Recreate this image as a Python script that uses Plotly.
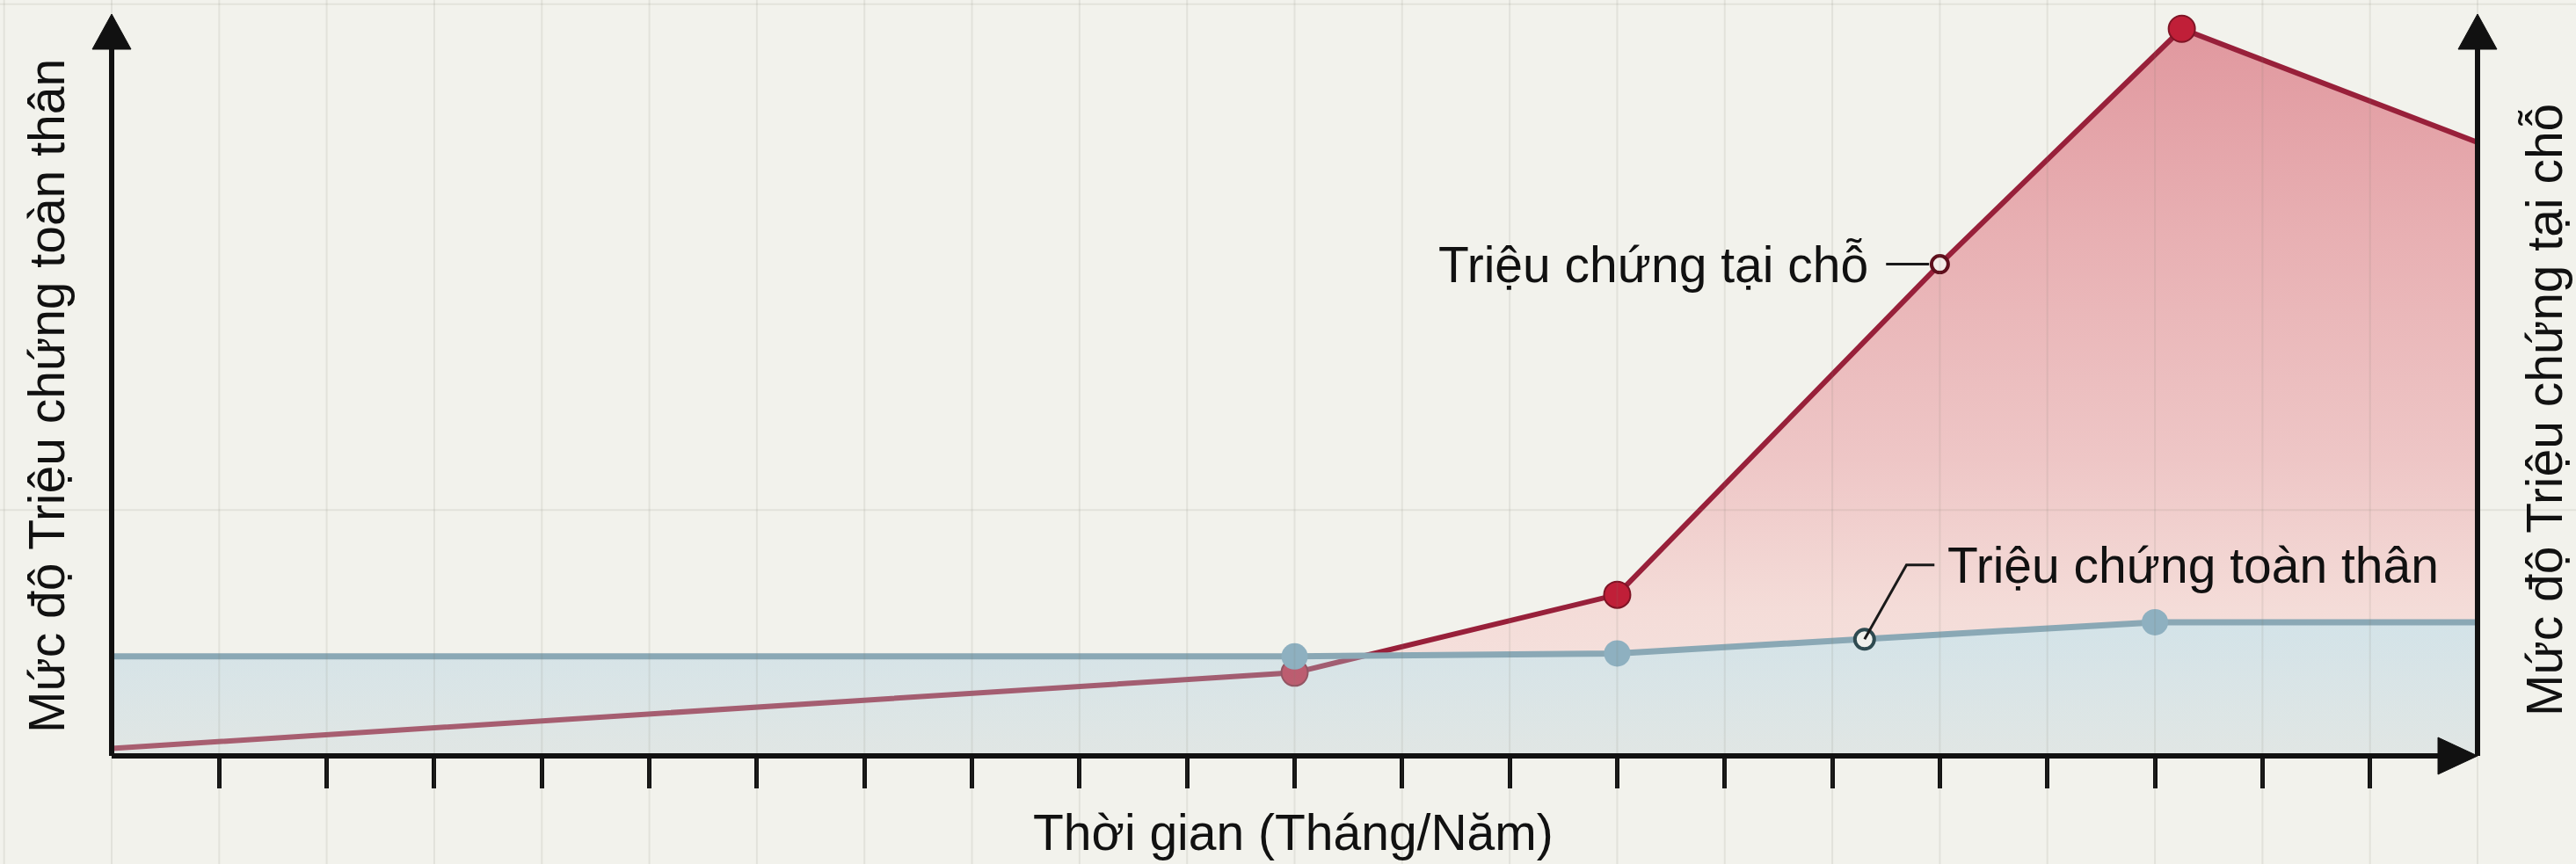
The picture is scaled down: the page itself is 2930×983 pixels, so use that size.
import plotly.graph_objects as go

# ---------------- data ----------------
red_x = [0, 11, 14, 17, 19.25, 22]
red_y = [1.0, 11.2, 21.7, 66.2, 97.9, 82.6]
blue_x = [0, 11, 14, 16.3, 19, 22]
blue_y = [13.4, 13.4, 13.8, 15.7, 18.0, 18.0]
tick_positions = list(range(1, 22))
label_local = "Triệu chứng tại chỗ"
label_system = "Triệu chứng toàn thân"
title_x = "Thời gian (Tháng/Năm)"
title_left = "Mức độ Triệu chứng toàn thân"
title_right = "Mức độ Triệu chứng tại chỗ"

# ---------------- geometry ----------------
W, H = 2930, 983
ML, MR, MT, MB = 127, 112, 15, 123
PW, PH = W - ML - MR, H - MT - MB
XR = [0, 22]
YR = [0, 100]
FONT = "Liberation Sans Narrow, Arial Narrow, Liberation Sans, Arial, sans-serif"
FS = 57
BG = "#f2f2ec"


def px_x(p):
    return p / PW


def px_y(p):
    return p / PH


def xpaper(v):
    return (v - XR[0]) / (XR[1] - XR[0])


fig = go.Figure()

# 1. red area (local symptoms)
fig.add_trace(go.Scatter(
    x=red_x, y=red_y, mode="none",
    fill="tozeroy",
    fillgradient=dict(type="vertical", start=0, stop=100,
                      colorscale=[[0.0, "#f6e6e2"], [0.2, "#f4dcd8"],
                                  [0.4, "#eec6c6"], [0.7, "#e8b0b3"],
                                  [1.0, "#e0969d"]]),
    hoverinfo="skip", showlegend=False,
))

# 2. blue base area (systemic symptoms)
fig.add_trace(go.Scatter(
    x=blue_x, y=blue_y, mode="none",
    fill="tozeroy",
    fillgradient=dict(type="vertical", start=0, stop=18,
                      colorscale=[[0.0, "#eef1ed"], [1.0, "#e9eff0"]]),
    hoverinfo="skip", showlegend=False,
))

# 3. red line + markers
red_sizes = [0, 30, 30, 19, 30, 0]
red_colors = ["#c01f38", "#c01f38", "#c01f38", "#f3ece8", "#c01f38", "#c01f38"]
red_lines = ["#7f1425", "#7f1425", "#7f1425", "#5e0f1c", "#7f1425", "#7f1425"]
red_lw = [0, 2, 2, 4, 2, 0]
fig.add_trace(go.Scatter(
    x=red_x, y=red_y, mode="lines+markers",
    line=dict(color="#98203a", width=6),
    marker=dict(size=red_sizes, color=red_colors, opacity=1,
                line=dict(color=red_lines, width=red_lw)),
    hoverinfo="skip", showlegend=False,
))

# 4. blue overlay area + line + markers
blue_sizes = [0, 30, 30, 22, 30, 0]
blue_colors = ["#8eb0c0", "#8eb0c0", "#8eb0c0", "#f0f0ec", "#8eb0c0", "#8eb0c0"]
blue_lw = [0, 0, 0, 4, 0, 0]
fig.add_trace(go.Scatter(
    x=blue_x, y=blue_y, mode="lines+markers",
    line=dict(color="#8aa8b5", width=7),
    marker=dict(size=blue_sizes, color=blue_colors, opacity=1,
                line=dict(color="#2e4a50", width=blue_lw)),
    fill="tozeroy",
    fillgradient=dict(type="vertical", start=0, stop=18,
                      colorscale=[[0.0, "rgba(200,210,212,0.35)"],
                                  [1.0, "rgba(170,205,218,0.35)"]]),
    hoverinfo="skip", showlegend=False,
))

shapes = []
# background grid (extends across the whole page)
GRID = dict(color="rgba(120,120,110,0.13)", width=2)
for k in range(-1, 24):
    xp = xpaper(k)
    shapes.append(dict(type="line", xref="paper", yref="paper",
                       x0=xp, x1=xp, y0=-0.3, y1=1.1, line=GRID, layer="above"))
for yv in [33.1, 101.2]:
    yp = (yv - YR[0]) / (YR[1] - YR[0])
    shapes.append(dict(type="line", xref="paper", yref="paper",
                       x0=-0.1, x1=1.1, y0=yp, y1=yp, line=GRID, layer="above"))

# axes lines
AX = dict(color="#111111", width=6)
shapes.append(dict(type="line", xref="paper", yref="paper", x0=0, x1=1 - px_x(30),
                   y0=0, y1=0, line=AX))
shapes.append(dict(type="line", xref="paper", yref="paper", x0=0, x1=0,
                   y0=0, y1=1 - px_y(30), line=AX))
shapes.append(dict(type="line", xref="paper", yref="paper", x0=1, x1=1,
                   y0=0, y1=1 - px_y(30), line=AX))

# arrow heads
tip_y = 1 - px_y(1)
base_y = 1 - px_y(41)
hw = px_x(22)
for xa in (0, 1):
    shapes.append(dict(type="path", xref="paper", yref="paper",
                       path=f"M {xa - hw},{base_y} L {xa},{tip_y} L {xa + hw},{base_y} Z",
                       fillcolor="#111111", line=dict(color="#111111", width=1)))
tip_x = 1.0
base_x = 1 - px_x(45)
hh = px_y(21)
shapes.append(dict(type="path", xref="paper", yref="paper",
                   path=f"M {base_x},{-hh} L {tip_x},0 L {base_x},{hh} Z",
                   fillcolor="#111111", line=dict(color="#111111", width=1)))

# leader lines
LD = dict(color="#1a1a1a", width=3)
shapes.append(dict(type="line", xref="x", yref="y", x0=16.5, x1=16.9,
                   y0=red_y[3], y1=red_y[3], line=LD))
shapes.append(dict(type="path", xref="x", yref="y",
                   path=f"M {blue_x[3]},{blue_y[3]} L 16.69,25.7 L 16.95,25.7",
                   line=LD))

TXT = dict(family=FONT, size=FS, color="#111111")
annotations = [
    dict(text=label_local, x=16.35, y=red_y[3], xref="x", yref="y",
         xanchor="right", yanchor="middle", showarrow=False, font=TXT),
    dict(text=label_system, x=17.05, y=25.7, xref="x", yref="y",
         xanchor="left", yanchor="middle", showarrow=False, font=TXT),
    dict(text=title_x, x=0.4994, y=-87 / PH, xref="paper", yref="paper",
         xanchor="center", yanchor="middle", showarrow=False, font=TXT),
    dict(text=title_left, x=-74 / PW, y=(860 - 451) / PH, xref="paper", yref="paper",
         xanchor="center", yanchor="middle", showarrow=False, textangle=-90, font=TXT),
    dict(text=title_right, x=1 + 76 / PW, y=(860 - 467) / PH, xref="paper", yref="paper",
         xanchor="center", yanchor="middle", showarrow=False, textangle=-90, font=TXT),
]

fig.update_layout(
    width=W, height=H,
    margin=dict(l=ML, r=MR, t=MT, b=MB, pad=0),
    paper_bgcolor=BG, plot_bgcolor=BG,
    shapes=shapes, annotations=annotations,
    showlegend=False,
    xaxis=dict(range=XR, tickvals=tick_positions, ticks="outside", ticklen=36,
               tickwidth=5, tickcolor="#111111", showticklabels=False,
               showgrid=False, zeroline=False, showline=False, fixedrange=True),
    yaxis=dict(range=YR, showticklabels=False, showgrid=False, zeroline=False,
               showline=False, ticks="", fixedrange=True),
)

fig.write_html("out.html")
